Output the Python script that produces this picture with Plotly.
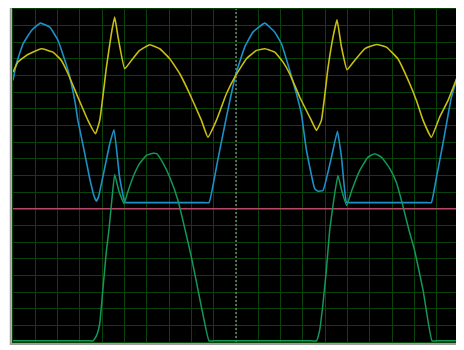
import plotly.graph_objects as go

# Time axis in divisions (0..20), amplitude in divisions (reference level = 0)
blue_t = [0.00, 0.15, 0.45, 0.83, 1.23, 1.65, 2.02, 2.47, 2.77, 2.91, 3.17, 3.44, 3.64, 3.74, 3.84,
          4.34, 4.53, 4.78, 5.01, 5.09, 5.30, 8.60, 8.79, 9.18, 9.54, 9.79, 10.02, 10.39, 10.76, 11.29,
          11.74, 12.04, 12.41, 12.71, 12.93, 13.16, 13.53, 13.68, 13.90, 14.28, 14.55, 14.73, 14.95,
          15.10, 15.30, 18.57, 18.76, 18.99, 19.28, 19.66, 20.00]
blue_v = [7.71, 8.71, 9.91, 10.71, 11.15, 10.91, 10.11, 8.31, 6.51, 5.31, 3.63, 1.82, 0.74, 0.46, 0.74,
          3.91, 4.75, 1.90, 0.40, 0.37, 0.37, 0.37, 0.37, 2.91, 5.31, 6.91, 8.21, 9.71, 10.61, 11.15,
          10.61, 9.91, 8.31, 6.91, 5.71, 3.51, 1.21, 1.06, 1.10, 3.10, 4.66, 3.10, 0.40,
          0.37, 0.37, 0.37, 0.37, 1.90, 3.91, 6.70, 8.19]

yellow_t = [0.00, 0.22, 0.60, 1.27, 1.79, 2.17, 2.47, 2.91, 3.36, 3.70, 3.89, 4.19, 4.41, 4.56, 4.71,
            5.01, 5.31, 5.68, 6.13, 6.58, 7.03, 7.48, 7.92, 8.45, 8.74, 9.12, 9.57, 9.99, 10.47,
            10.91, 11.29, 11.74, 12.11, 12.41, 12.86, 13.38, 13.61, 13.83, 14.13, 14.35, 14.53,
            14.73, 14.98, 15.32, 15.77, 16.30, 16.74, 17.26, 17.79, 18.09, 18.39, 18.76, 19.13,
            19.51, 20.00]
yellow_v = [8.21, 8.81, 9.21, 9.61, 9.41, 8.91, 8.11, 6.70, 5.31, 4.51, 5.31, 8.51, 10.51, 11.51, 10.31,
            8.41, 8.91, 9.51, 9.85, 9.61, 9.01, 8.11, 6.91, 5.31, 4.30, 5.31, 6.91, 8.01, 9.01,
            9.51, 9.61, 9.41, 8.81, 8.11, 6.70, 5.31, 4.71, 5.31, 8.51, 10.31, 11.35,
            9.71, 8.35, 8.91, 9.61, 9.87, 9.71, 9.01, 7.51, 6.51, 5.31, 4.30, 5.50,
            6.51, 8.19]

green_t = [0.00, 3.40, 3.59, 3.75, 3.89, 4.04, 4.19, 4.30, 4.43, 4.56, 4.74, 4.98, 5.14, 5.38, 5.68,
           5.98, 6.28, 6.44, 6.71, 7.03, 7.40, 8.00, 8.45, 8.79, 9.00, 13.40, 13.61, 13.75, 13.90,
           14.05, 14.20, 14.38, 14.57, 14.74, 14.96, 15.19, 15.55, 15.91, 16.22, 16.53, 16.89,
           17.19, 17.48, 17.76, 18.01, 18.39, 18.79, 19.00, 20.00]
green_v = [-7.93, -7.93, -7.93, -7.60, -6.88, -4.70, -2.50, -1.30, 0.50, 2.06, 1.10, 0.31, 0.98, 1.90,
           2.73, 3.21, 3.34, 3.31, 2.79, 1.90, 0.50, -2.90, -5.90, -7.93, -7.93, -7.93, -7.93, -7.30,
           -5.70, -3.70, -1.30, 0.50, 2.00, 1.10, 0.20, 1.10, 2.31, 3.09, 3.31, 3.09, 2.43,
           1.60, 0.20, -1.30, -2.50, -4.90, -7.93, -7.93, -7.93]

ref_level = 0.0
trigger_time = 10.0
x_range = [0, 20]
y_range = [-8, 12]

GRID = "#0a430a"

fig = go.Figure()
fig.add_trace(go.Scatter(x=x_range, y=[ref_level, ref_level], mode="lines",
                         line=dict(color="#b8476a", width=1.6), hoverinfo="skip"))
fig.add_trace(go.Scatter(x=[trigger_time, trigger_time], y=y_range, mode="lines",
                         line=dict(color="black", width=1.2), hoverinfo="skip"))
fig.add_trace(go.Scatter(x=[trigger_time, trigger_time], y=y_range, mode="lines",
                         line=dict(color="#bdbdbd", width=1, dash="2px,2px"), hoverinfo="skip"))
fig.add_trace(go.Scatter(x=blue_t, y=blue_v, mode="lines",
                         line=dict(color="#1d90c8", width=1.6, shape="spline", smoothing=0.35)))
fig.add_trace(go.Scatter(x=yellow_t, y=yellow_v, mode="lines",
                         line=dict(color="#c8bf12", width=1.6, shape="spline", smoothing=0.35)))
fig.add_trace(go.Scatter(x=green_t, y=green_v, mode="lines",
                         line=dict(color="#12995a", width=1.5, shape="spline", smoothing=0.35)))

axis_common = dict(showticklabels=False, ticks="", showgrid=True, gridcolor=GRID, gridwidth=1,
                   zeroline=False, showline=True, linecolor=GRID, linewidth=1, mirror=True,
                   tick0=0, dtick=1, fixedrange=True)
fig.update_xaxes(range=x_range, **axis_common)
fig.update_yaxes(range=y_range, **axis_common)

fig.add_shape(type="rect", xref="paper", yref="paper", x0=-0.005, x1=1.006, y0=-0.006, y1=1.003,
              line=dict(color="#9c9c9c", width=2), layer="below")

# page body has an 8px default margin, so the figure is sized to fill the remaining window
fig.update_layout(width=456, height=342, margin=dict(l=5, r=5, t=1, b=8),
                  paper_bgcolor="white", plot_bgcolor="black", showlegend=False)

fig.write_html("out.html")
